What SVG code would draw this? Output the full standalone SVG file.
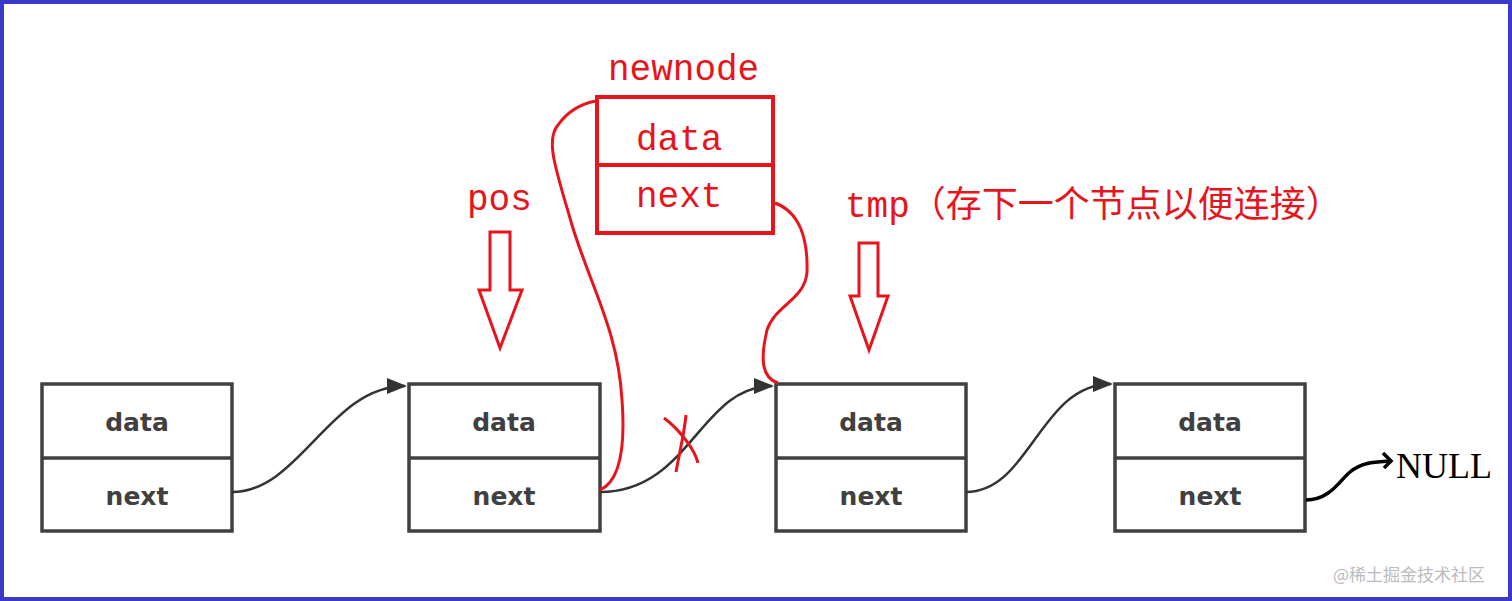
<svg xmlns="http://www.w3.org/2000/svg" width="1512" height="601" viewBox="0 0 1512 601">
<style>
.box{fill:#fff;stroke:#404040;stroke-width:3.5}
.lbl{font-family:"DejaVu Sans",sans-serif;font-weight:bold;font-size:25px;fill:#404040;text-anchor:middle}
.red{fill:none;stroke:#e8141c;stroke-width:3}
.rt{font-family:"Liberation Mono","Noto Sans CJK SC",monospace;font-size:36px;fill:#e8141c}
.con{fill:none;stroke:#333;stroke-width:3;marker-end:url(#ah)}
</style>
<defs>
<marker id="ah" markerWidth="10" markerHeight="8" refX="9" refY="4" orient="auto" markerUnits="userSpaceOnUse" viewBox="0 0 10 8">
<path d="M0,0 L10,4 L0,8 Z" fill="#333"/>
</marker>
<marker id="ah2" markerWidth="20" markerHeight="16" refX="18" refY="8" orient="auto" markerUnits="userSpaceOnUse" viewBox="0 0 20 16">
<path d="M0,0 L20,8 L0,16 Z" fill="#333"/>
</marker>
</defs>
<rect x="0" y="0" width="1512" height="601" fill="#fff"/>
<rect x="2" y="2" width="1508" height="597" fill="none" stroke="#3a3ac8" stroke-width="4"/>
<g id="n1"><rect class="box" x="42" y="384" width="190" height="147"/><line class="box" x1="42" y1="458" x2="232" y2="458"/><text class="lbl" x="137" y="431">data</text><text class="lbl" x="137" y="505">next</text></g>
<g id="n2"><rect class="box" x="409" y="384" width="191" height="147"/><line class="box" x1="409" y1="458" x2="600" y2="458"/><text class="lbl" x="504" y="431">data</text><text class="lbl" x="504" y="505">next</text></g>
<g id="n3"><rect class="box" x="776" y="384" width="190" height="147"/><line class="box" x1="776" y1="458" x2="966" y2="458"/><text class="lbl" x="871" y="431">data</text><text class="lbl" x="871" y="505">next</text></g>
<g id="n4"><rect class="box" x="1115" y="384" width="190" height="147"/><line class="box" x1="1115" y1="458" x2="1305" y2="458"/><text class="lbl" x="1210" y="431">data</text><text class="lbl" x="1210" y="505">next</text></g>
<g id="newnode">
<text class="rt" x="608" y="80">newnode</text>
<rect x="597" y="97" width="176" height="136" fill="none" stroke="#e8141c" stroke-width="4"/>
<line x1="597" y1="165" x2="773" y2="165" stroke="#e8141c" stroke-width="4"/>
<text class="rt" x="636" y="150">data</text>
<text class="rt" x="636" y="207">next</text>
</g>
<g id="pos">
<text class="rt" x="467" y="210">pos</text>
<path class="red" d="M490,232 H510 V290 H522 L500,348 L479,290 H490 Z"/>
</g>
<g id="tmp">
<text class="rt" x="845" y="217">tmp（存下一个节点以便连接）</text>
<path class="red" d="M859,243 H878 V296 H888 L869,350 L850,296 H859 Z"/>
</g>
<g id="connectors">
<path class="con" d="M232,492 C300,492 330,386 405,386" style="marker-end:url(#ah2);stroke-width:2.5"/>
<path class="con" d="M600,492 C690,492 700,386 772,386" style="marker-end:url(#ah2);stroke-width:2.5"/>
<path class="con" d="M966,492 C1030,492 1040,384 1111,384" style="marker-end:url(#ah2);stroke-width:2.5"/>
<path d="M1306,500 C1330,500 1340,480 1350,472 C1362,462 1375,462 1390,461" fill="none" stroke="#000" stroke-width="3.5"/>
<path d="M1383,453 L1391,461 L1384,468" fill="none" stroke="#000" stroke-width="3.5"/>
<path class="red" d="M600,490 C622,480 625,440 622,400 C618,330 590,285 572,225 C556,170 545,140 558,125 C570,108 585,103 596,101"/>
<path class="red" d="M775,203 C800,212 808,240 807,272 C805,300 775,305 767,330 C760,360 762,378 778,383"/>
<path class="red" d="M664,418 C680,430 695,450 698,463"/>
<path class="red" d="M686,415 C684,435 680,450 676,472"/>
</g>
<text x="1396" y="478" font-family="Liberation Serif,serif" font-size="36" fill="#000">NULL</text>
<text x="1333" y="581" font-family="Noto Sans CJK SC,sans-serif" font-size="17" fill="#bbb">@稀土掘金技术社区</text>
</svg>
